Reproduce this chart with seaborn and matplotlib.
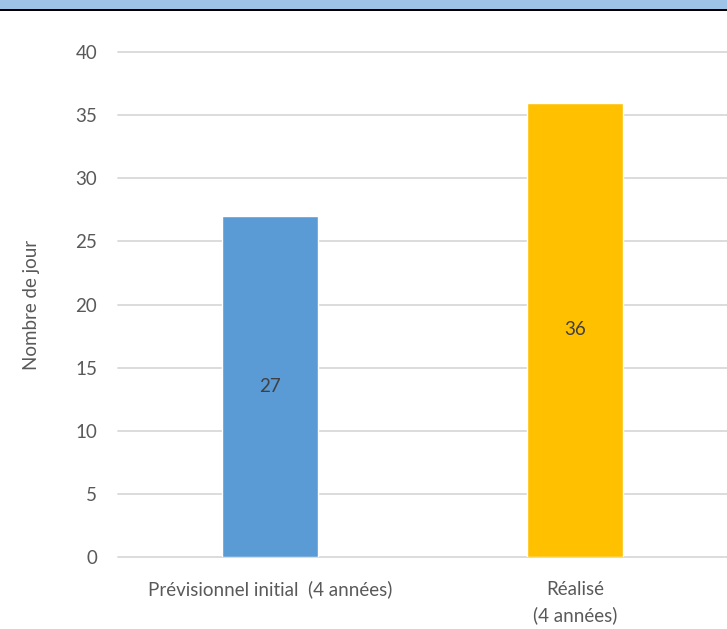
import matplotlib.pyplot as plt
import seaborn as sns
import pandas as pd
from matplotlib.patches import Rectangle

categories = ["Prévisionnel initial  (4 années)", "Réalisé\n(4 années)"]
jours = [27, 36]
couleurs = ["#5B9BD5", "#FFC000"]
yticks = [0, 5, 10, 15, 20, 25, 30, 35, 40]

sns.set_style("white")
plt.rcParams['font.family'] = ['Lato', 'DejaVu Sans']
fs = 13.5

df = pd.DataFrame({"cat": categories, "jours": jours})

W, H = 727, 629
fig = plt.figure(figsize=(W / 100, H / 100), dpi=100)
ax = fig.add_axes([118 / W, 1 - 557 / H, 1 - 118 / W, (557 - 52) / H])

sns.barplot(data=df, x="cat", y="jours", hue="cat", palette=couleurs,
            width=0.315, legend=False, ax=ax, zorder=3, saturation=1)

ax.set_ylim(0, 40)
ax.set_xlim(-0.5, 1.5)
ax.set_yticks(yticks)
ax.yaxis.grid(True, color="#D9D9D9", linewidth=1.3, zorder=0)
for line in ax.get_ygridlines():
    line.set_clip_on(False)
ax.set_axisbelow(True)
sns.despine(ax=ax, left=True, bottom=True, top=True, right=True)
ax.tick_params(axis="both", length=0, labelsize=fs, colors="#595959")
ax.tick_params(axis="y", pad=15)
ax.tick_params(axis="x", pad=17)
for lbl in ax.get_xticklabels():
    lbl.set_linespacing(1.6)

ax.set_xlabel("")
ax.set_ylabel("Nombre de jour", fontsize=fs, color="#595959", labelpad=25)

for i, v in enumerate(jours):
    ax.text(i, v / 2, str(v), ha="center", va="center", fontsize=fs,
            color="#404040", zorder=4)

# bandeau en haut
fig.patches.append(Rectangle((0, 1 - 9 / H), 1, 9 / H, transform=fig.transFigure,
                             facecolor="#9DC3E6", edgecolor="none"))
fig.patches.append(Rectangle((0, 1 - 11 / H), 1, 2 / H, transform=fig.transFigure,
                             facecolor="black", edgecolor="none"))

fig.savefig("out.png", dpi=100)
